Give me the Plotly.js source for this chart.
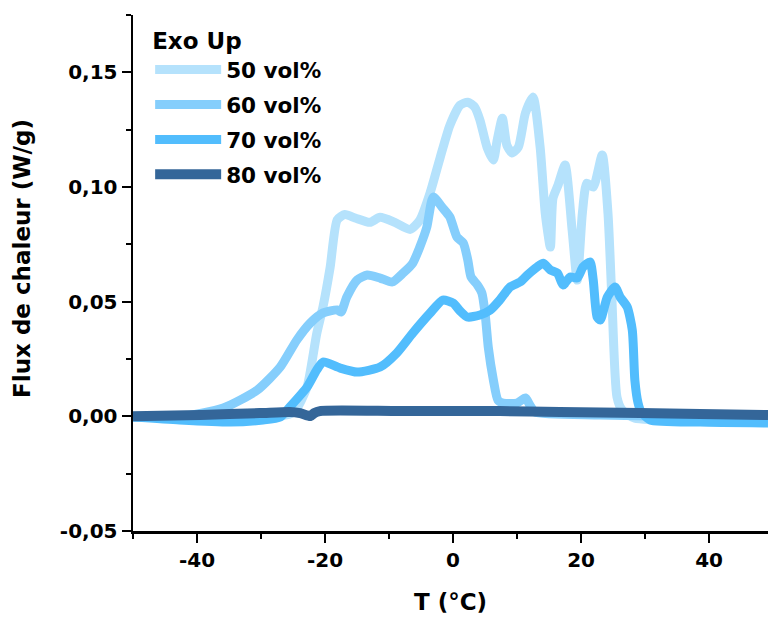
<!DOCTYPE html>
<html>
<head>
<meta charset="utf-8">
<script src="https://cdn.plot.ly/plotly-3.0.1.min.js"></script>
<style>html,body{margin:0;padding:0;background:#fff;}#chart{width:768px;height:617px;}</style>
</head>
<body>
<div id="chart"></div>
<script>
// ---- data ----
const seriesNames = ['50 vol%', '60 vol%', '70 vol%', '80 vol%'];
const seriesColors = ['#B5E2FC', '#85CEFC', '#52BDFD', '#346699'];

const t50 = [-50, -39.5, -30.2, -25.5, -24.5, -22.8, -21.3, -20.3, -19.2, -18.1, -16.9, -15.3, -13.0, -11.4, -9.1, -6.7, -5.2, -3.6, -2.0, -0.5, 1.1, 2.3, 3.4, 4.2, 5.3, 6.3, 6.9, 7.7, 8.4, 9.2, 10.2, 11.3, 12.5, 13.6, 14.4, 15.2, 15.6, 16.4, 17.5, 18.6, 19.4, 20.2, 20.9, 21.9, 23.3, 24.2, 24.8, 25.6, 26.4, 28.4, 38.6, 49.2];
const f50 = [0.000, -0.0003, -0.0003, 0.001, 0.003, 0.0128, 0.036, 0.048, 0.065, 0.0857, 0.0880, 0.0865, 0.0846, 0.0868, 0.0846, 0.0815, 0.0855, 0.0973, 0.1130, 0.1269, 0.1357, 0.1370, 0.1348, 0.1292, 0.1174, 0.1118, 0.1205, 0.1300, 0.1183, 0.1148, 0.1174, 0.1322, 0.1392, 0.1174, 0.0886, 0.0738, 0.0950, 0.1008, 0.1096, 0.0812, 0.0594, 0.0886, 0.1017, 0.1000, 0.1140, 0.0886, 0.0520, 0.0085, 0.0028, -0.0008, -0.0016, -0.0020];

const t60 = [-50, -42.7, -35.9, -30.6, -27.0, -24.4, -22.3, -20.3, -18.1, -17.5, -16.6, -15.0, -13.4, -11.4, -9.5, -7.8, -6.3, -5.2, -4.1, -3.1, -1.6, -0.5, 0.6, 1.6, 2.3, 2.8, 3.8, 4.5, 5.0, 5.5, 6.3, 7.0, 7.8, 10.0, 11.3, 12.0, 12.8, 23.0, 38.6, 49.2];
const f60 = [-0.0003, -0.0003, 0.0036, 0.0114, 0.0215, 0.0333, 0.0407, 0.0451, 0.0464, 0.0455, 0.0520, 0.0594, 0.0616, 0.0603, 0.0586, 0.0625, 0.0668, 0.0738, 0.0825, 0.0956, 0.0908, 0.0869, 0.0782, 0.0756, 0.0682, 0.0608, 0.0573, 0.0538, 0.0450, 0.0302, 0.0158, 0.0071, 0.0058, 0.0058, 0.0080, 0.0049, 0.0019, 0.0006, -0.0003, -0.0007];

const t70 = [-50, -42.7, -34.8, -29.7, -27.0, -25.5, -22.8, -21.3, -20.3, -17.7, -15.0, -11.4, -8.8, -6.3, -3.6, -1.6, 0.0, 1.1, 2.2, 4.2, 5.8, 7.3, 8.9, 10.5, 11.6, 13.1, 14.1, 15.2, 16.3, 17.2, 18.3, 19.4, 20.3, 21.4, 21.9, 22.5, 23.0, 24.1, 25.3, 26.1, 27.2, 28.0, 28.4, 28.9, 29.4, 30.8, 38.6, 49.2];
const f70 = [-0.0003, -0.0016, -0.0025, -0.0016, -0.0003, 0.0041, 0.0128, 0.0202, 0.0237, 0.0211, 0.0193, 0.0215, 0.0276, 0.0363, 0.0450, 0.0507, 0.0494, 0.0459, 0.0433, 0.0442, 0.0463, 0.0507, 0.0564, 0.0586, 0.0616, 0.0651, 0.0668, 0.0638, 0.0625, 0.0573, 0.0608, 0.0603, 0.0651, 0.0673, 0.0594, 0.0433, 0.0420, 0.0520, 0.0564, 0.0520, 0.0477, 0.0376, 0.0158, 0.0058, 0.0019, -0.0016, -0.0025, -0.0029];

const t80 = [-50, -39.5, -30.2, -25.5, -23.9, -22.3, -21.7, -20.8, -8.3, 7.3, 16.7, 29.2, 38.6, 49.2];
const f80 = [0.0000, 0.0006, 0.0014, 0.0019, 0.0014, 0.0001, 0.0014, 0.0023, 0.0023, 0.0023, 0.0019, 0.0014, 0.0010, 0.0006];

const xTickVals = [-40, -20, 0, 20, 40];
const xTickText = ['-40', '-20', '0', '20', '40'];
const yTickVals = [-0.05, 0, 0.05, 0.10, 0.15];
const yTickText = ['-0,05', '0,00', '0,05', '0,10', '0,15'];

const legendTitle = 'Exo Up';
const xTitle = 'T (°C)';
const yTitle = 'Flux de chaleur (W/g)';

// ---- chart ----
const xs = [t50, t60, t70, t80];
const ys = [f50, f60, f70, f80];
const widths = [9, 9, 9, 10];
const traces = xs.map((x, i) => ({
  type: 'scatter', mode: 'lines', x: x, y: ys[i], name: seriesNames[i],
  legendgroup: 'g' + i,
  line: {color: seriesColors[i], width: widths[i], shape: 'spline', smoothing: 0.6},
  hoverinfo: 'skip'
}));

const FONT = 'DejaVu Sans, Liberation Sans, Arial, sans-serif';
const axisCommon = {
  showline: true, linecolor: '#000', linewidth: 2.5, mirror: false,
  showgrid: false, zeroline: false,
  ticks: 'outside', ticklen: 9, tickwidth: 2, tickcolor: '#000',
  tickfont: {family: FONT, size: 20, color: '#000', weight: 'bold'},
  tickmode: 'array'
};

const layout = {
  width: 768, height: 617,
  margin: {l: 133, r: 0, t: 15, b: 86},
  paper_bgcolor: '#fff', plot_bgcolor: '#fff',
  font: {family: FONT, color: '#000'},
  separators: ', ',
  showlegend: true,
  legend: {
    x: 0.027, y: 0.992, xanchor: 'left', yanchor: 'top',
    bgcolor: 'rgba(0,0,0,0)', borderwidth: 0,
    itemwidth: 66, tracegroupgap: 4,
    font: {family: FONT, size: 21.5, color: '#000', weight: 'bold'},
    title: {text: legendTitle, font: {family: FONT, size: 23, color: '#000', weight: 'bold'}}
  },
  xaxis: Object.assign({}, axisCommon, {
    range: [-50, 49.2],
    tickvals: xTickVals, ticktext: xTickText,
    minor: {ticks: 'outside', ticklen: 5, tickwidth: 2, tickcolor: '#000', tick0: 0, dtick: 10, showgrid: false},
    title: {text: xTitle, font: {family: FONT, size: 23, color: '#000', weight: 'bold'}, standoff: 24}
  }),
  yaxis: Object.assign({}, axisCommon, {
    range: [-0.05, 0.175],
    tickvals: yTickVals, ticktext: yTickText,
    minor: {ticks: 'outside', ticklen: 5, tickwidth: 2, tickcolor: '#000', tick0: 0, dtick: 0.025, showgrid: false}
  }),
  annotations: [{
    text: yTitle, textangle: -90, showarrow: false,
    xref: 'paper', yref: 'paper', x: -0.175, y: 0.529, xanchor: 'center', yanchor: 'middle',
    font: {family: FONT, size: 23, color: '#000', weight: 'bold'}
  }]
};

Plotly.newPlot('chart', traces, layout, {displayModeBar: false, staticPlot: true});
</script>
</body>
</html>
